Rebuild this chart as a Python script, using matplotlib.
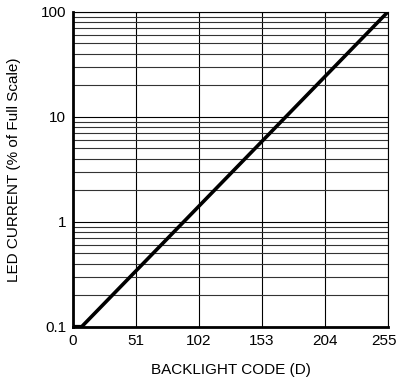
import matplotlib
matplotlib.use("Agg")
import matplotlib.pyplot as plt
import matplotlib.transforms as mtransforms
import numpy as np
from matplotlib.ticker import NullFormatter, LogLocator

plt.rcParams['font.family'] = ['Liberation Sans', 'DejaVu Sans']

code = [0, 7, 255]
current = [0.1, 0.1, 100]
xticks = [0, 51, 102, 153, 204, 255]
yticks = [0.1, 1, 10, 100]
ylabels = ["0.1", "1", "10", "100"]

fig = plt.figure(figsize=(3.97, 3.83), dpi=100)
ax = fig.add_axes([0.184, 0.147, 0.793, 0.822])
ax.set_yscale('log')
ax.set_xlim(0, 255)
ax.set_ylim(0.1, 100)

ax.set_xticks(xticks)
ax.set_xticklabels([str(t) for t in xticks])
ax.set_yticks(yticks)
ax.set_yticklabels(ylabels)
ax.yaxis.set_minor_locator(LogLocator(base=10, subs=np.arange(2, 10)))
ax.yaxis.set_minor_formatter(NullFormatter())
ax.tick_params(axis='both', which='both', length=0, labelsize=11, colors='black')
ax.tick_params(axis='x', pad=5)
ax.tick_params(axis='y', pad=5)

# nudge the last x label slightly left so it fits inside the figure
last = ax.get_xticklabels()[-1]
last.set_transform(last.get_transform() +
                   mtransforms.ScaledTranslation(-4 / 100, 0, fig.dpi_scale_trans))

ax.grid(True, which='major', axis='both', color='black', linewidth=0.8)
ax.grid(True, which='minor', axis='y', color='#333333', linewidth=0.8)

ax.plot(code, current, color='black', linewidth=2.6, solid_capstyle='butt', zorder=5)

for s in ['left', 'bottom']:
    ax.spines[s].set_linewidth(2)
for s in ['right', 'top']:
    ax.spines[s].set_linewidth(0.8)
for s in ax.spines.values():
    s.set_color('black')

ax.set_xlabel("BACKLIGHT CODE (D)", fontsize=11, labelpad=11)
ax.set_ylabel("LED CURRENT (% of Full Scale)", fontsize=11, labelpad=14)

fig.savefig("out.png", dpi=100)
